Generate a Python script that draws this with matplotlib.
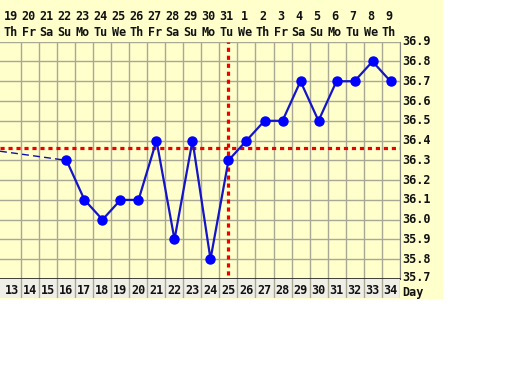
import matplotlib
matplotlib.use("Agg")
import matplotlib.pyplot as plt
from matplotlib.patches import Rectangle
from matplotlib.transforms import blended_transform_factory, offset_copy

cycle_days = list(range(13, 35))
dates = ["19", "20", "21", "22", "23", "24", "25", "26", "27", "28", "29", "30", "31",
         "1", "2", "3", "4", "5", "6", "7", "8", "9"]
weekdays = ["Th", "Fr", "Sa", "Su", "Mo", "Tu", "We", "Th", "Fr", "Sa", "Su", "Mo", "Tu",
            "We", "Th", "Fr", "Sa", "Su", "Mo", "Tu", "We", "Th"]
temp_days = [16, 17, 18, 19, 20, 21, 22, 23, 24, 25, 26, 27, 28, 29, 30, 31, 32, 33, 34]
temps = [36.3, 36.1, 36.0, 36.1, 36.1, 36.4, 35.9, 36.4, 35.8, 36.3, 36.4, 36.5, 36.5,
         36.7, 36.5, 36.7, 36.7, 36.8, 36.7]
gap_days = [12, 16]
gap_temps = [36.35, 36.3]
coverline = 36.36
ovulation_day = 25
y_ticks = [35.7, 35.8, 35.9, 36.0, 36.1, 36.2, 36.3, 36.4, 36.5, 36.6, 36.7, 36.8, 36.9]

W, H = 512, 384
fig = plt.figure(figsize=(W / 100, H / 100), dpi=100)
fig.patch.set_facecolor("white")
yellow = "#ffffcc"
grid_c = "#a8a894"
font = dict(family="DejaVu Sans Mono", weight="bold", size=8.5, color="#111111")

bg = Rectangle((0, 1 - 299 / H), 443 / W, 299 / H, transform=fig.transFigure,
               facecolor=yellow, edgecolor="none", zorder=-10)
fig.patches.append(bg)

left, right = 0.0, 399.5 / W
top_px, bot_px = 41.7, 279.0
ax = fig.add_axes([left, 1 - bot_px / H, right - left, (bot_px - top_px) / H])
ax.set_facecolor(yellow)
xmin = 12.5 - 3.5 / 18
ax.set_xlim(xmin, 34.5)
ax.set_ylim(35.7, 36.9)
for d in range(13, 35):
    ax.axvline(d + 0.5, color=grid_c, lw=1, zorder=1)
for t in y_ticks:
    ax.axhline(t, color=grid_c, lw=1, zorder=1)
ax.set_xticks([])
ax.set_yticks([])
for s in ["top", "left"]:
    ax.spines[s].set_visible(False)
ax.spines["right"].set_color("#888888")
ax.spines["bottom"].set_color("#222222")
ax.spines["bottom"].set_linewidth(1.2)

# dashed connector from the previous (off-chart) reading, trimmed to the visible range
frac = (xmin - gap_days[0]) / (gap_days[1] - gap_days[0])
gx = [xmin, gap_days[1]]
gy = [gap_temps[0] + frac * (gap_temps[1] - gap_temps[0]), gap_temps[1]]
ax.plot(gx, gy, color="#1010b0", lw=1, ls=(0, (5, 3)), zorder=3)
ax.plot(temp_days, temps, color="#1414c8", lw=1.6, zorder=4, marker="o",
        markersize=6.5, markerfacecolor="#0000ff", markeredgecolor="#0000ff")
ax.axhline(coverline, color="#ee0000", lw=2.3, ls=(0, (1.3, 1.2)), zorder=3)
ax.plot([ovulation_day, ovulation_day], [35.72, 36.9], color="#ee0000", lw=2.3,
        ls=(0, (1.3, 1.2)), zorder=3)

# right temperature labels
for t in y_ticks:
    trans = ax.transData
    if t == y_ticks[0]:
        trans = offset_copy(ax.transData, fig=fig, x=0, y=1.5, units="dots")
    ax.text(34.5 + 3 / 18, t, f"{t:.1f}", ha="left", va="center", clip_on=False,
            transform=trans, **font)

# top labels
tr = blended_transform_factory(ax.transData, fig.transFigure)
for d, dt, wd in zip(cycle_days, dates, weekdays):
    fig.text(d - 0.1, 1 - 17 / H, dt, ha="center", va="center", transform=tr, **font)
    fig.text(d - 0.1, 1 - 32 / H, wd, ha="center", va="center", transform=tr, **font)

# bottom day row
ax2 = fig.add_axes([left, 1 - 298 / H, right - left, (298 - bot_px) / H])
ax2.set_facecolor("#efefe8")
ax2.set_xlim(xmin, 34.5)
ax2.set_ylim(0, 1)
ax2.set_xticks([])
ax2.set_yticks([])
for s in ax2.spines.values():
    s.set_visible(False)
for d in range(13, 35):
    ax2.axvline(d + 0.5, color=grid_c, lw=1)
    ax2.text(d, 0.42, str(d), ha="center", va="center", **font)
ax2.text(34.5 + 3 / 18, 0.3, "Day", ha="left", va="center", clip_on=False, **font)

fig.savefig("out.png", dpi=100, facecolor="white")
